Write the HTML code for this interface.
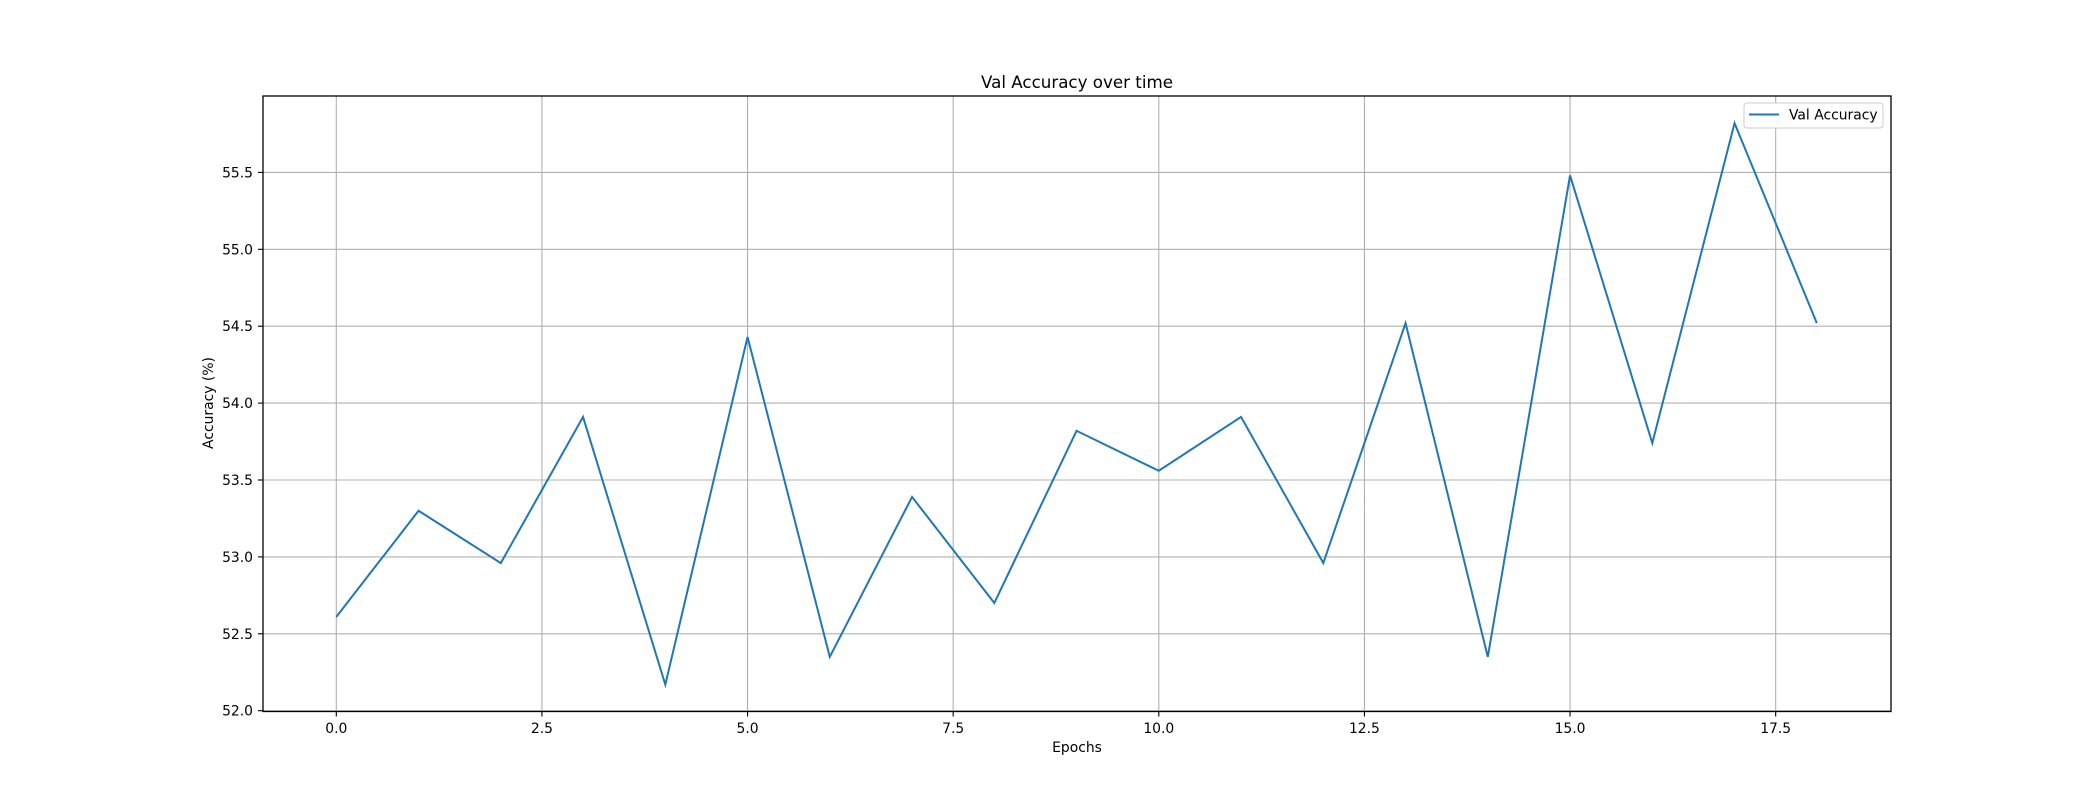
<!DOCTYPE html>
<html><head><meta charset="utf-8"><style>
body{margin:0;background:#fff}
text{font-family:"DejaVu Sans","Liberation Sans",sans-serif;fill:#000}
</style></head><body>
<svg id="chart" width="2100" height="800" xmlns="http://www.w3.org/2000/svg">
<rect width="2100" height="800" fill="#fff"/>
<g id="grid"></g>
<g id="ticks"></g>
<polyline id="line" fill="none" stroke="#1f77b4" stroke-width="2"/>
<rect x="263" y="96" width="1628" height="615.5" fill="none" stroke="#000" stroke-width="1.3"/>
<text x="1077" y="88" font-size="16.7" text-anchor="middle">Val Accuracy over time</text>
<text x="1077" y="752" font-size="13.9" text-anchor="middle">Epochs</text>
<text transform="translate(213,403) rotate(-90)" font-size="13.9" text-anchor="middle">Accuracy (%)</text>
<g>
<rect x="1744" y="103" width="139" height="25" rx="3" fill="#fff" stroke="#ccc" stroke-width="1"/>
<line x1="1749" y1="114.5" x2="1779" y2="114.5" stroke="#1f77b4" stroke-width="2"/>
<text x="1789" y="119.5" font-size="13.9">Val Accuracy</text>
</g>
</svg>
<script>
const epochs=[0,1,2,3,4,5,6,7,8,9,10,11,12,13,14,15,16,17,18];
const valAcc=[52.61,53.30,52.96,53.91,52.17,54.43,52.35,53.39,52.70,53.82,53.56,53.91,52.96,54.52,52.35,55.48,53.74,55.82,54.52];
const xTicks=[0,2.5,5,7.5,10,12.5,15,17.5];
const yTicks=[52.0,52.5,53.0,53.5,54.0,54.5,55.0,55.5];
const NS="http://www.w3.org/2000/svg";
function xs(v){return 336.3+v*82.25;}
function ys(v){return 710.7-(v-52)*153.8;}
const grid=document.getElementById('grid'),ticks=document.getElementById('ticks');
function mk(tag,attrs,parent){const e=document.createElementNS(NS,tag);for(const k in attrs)e.setAttribute(k,attrs[k]);parent.appendChild(e);return e;}
xTicks.forEach(t=>{
 const x=xs(t);
 const g=mk('line',{x1:x,x2:x,y1:96,y2:711.5,stroke:'#b0b0b0','stroke-width':1.1},grid);
 
 
 mk('line',{x1:x,x2:x,y1:711.5,y2:716.5,stroke:'#000','stroke-width':1.1},ticks);
 const tx=mk('text',{x:x,y:733,'font-size':13.9,'text-anchor':'middle'},ticks);
 tx.textContent=t.toFixed(1);
 
 
});
yTicks.forEach(t=>{
 const y=ys(t);
 const g=mk('line',{x1:263,x2:1891,y1:y,y2:y,stroke:'#b0b0b0','stroke-width':1.1},grid);
 
 
 mk('line',{x1:258,x2:263,y1:y,y2:y,stroke:'#000','stroke-width':1.1},ticks);
 const tx=mk('text',{x:253,y:y+5,'font-size':13.9,'text-anchor':'end'},ticks);
 tx.textContent=t.toFixed(1);
 
 
});
document.getElementById('line').setAttribute('points',epochs.map((e,i)=>xs(e)+','+ys(valAcc[i])).join(' '));
</script>
</body></html>
